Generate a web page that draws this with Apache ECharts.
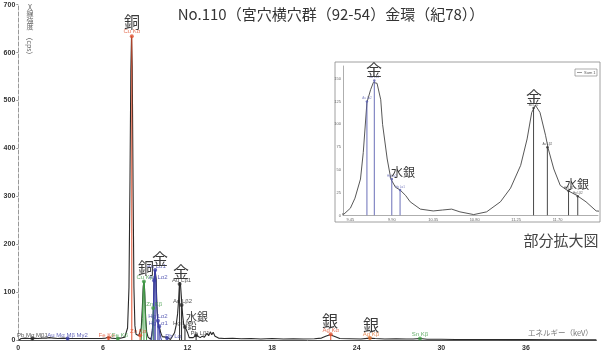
<!DOCTYPE html>
<html><head><meta charset="utf-8">
<script src="https://cdn.jsdelivr.net/npm/echarts@6/dist/echarts.min.js"></script>
<style>html,body{margin:0;padding:0;background:#fff}#c{width:604px;height:360px}</style>
</head><body><div id="c"></div>
<script>
// ---- DATA ----
const titleText = 'No.110（宮穴横穴群（92-54）金環（紀78））';
const xTicks = [0, 6, 12, 18, 24, 30, 36];
const yTicks = [0, 100, 200, 300, 400, 500, 600, 700];
const insetXTicks = [9.45, 9.9, 10.35, 10.8, 11.25, 11.7];
const insetYTicks = [0, 25, 50, 75, 100, 125, 150];

// spectrum [keV, cps]
const spectrum = [
[0.05,0],[0.2,3],[0.5,4],[0.8,3],[1.1,4],[1.4,3],[1.7,4],[2.0,4],[2.2,5],[2.5,4],[2.8,3],[3.2,4],[3.6,3],[4.0,3],[4.5,3],[5.0,3],[5.5,3],[5.9,3],[6.2,4],[6.4,6],[6.6,4],[6.9,3],[7.06,4],[7.3,4],[7.55,6],[7.75,25],[7.85,110],[7.92,330],[7.98,560],[8.03,634],[8.08,570],[8.14,320],[8.2,110],[8.27,30],[8.35,12],[8.45,8],[8.55,9],[8.64,12],[8.72,25],[8.8,70],[8.86,112],[8.91,122],[8.96,105],[9.02,55],[9.1,18],[9.2,6],[9.3,2],[9.38,1.5],[9.45,8],[9.5,19],[9.56,40],[9.59,69],[9.63,124],[9.67,138],[9.70,146],[9.74,145],[9.78,127],[9.80,100],[9.85,62],[9.89,40],[9.94,31],[9.99,28],[10.05,22],[10.10,15],[10.21,7],[10.35,5],[10.45,6],[10.55,7],[10.64,4],[10.79,1],[10.93,4],[11.08,15],[11.19,30],[11.30,55],[11.37,84],[11.42,113],[11.46,121],[11.48,121],[11.51,113],[11.57,88],[11.60,73],[11.66,51],[11.73,33],[11.80,28],[11.91,22],[12.01,15],[12.12,5],[12.25,4],[12.4,5],[12.61,10],[12.75,6],[12.9,5],[13.05,8],[13.2,6],[13.38,14],[13.5,9],[13.62,17],[13.72,11],[13.82,16],[13.95,8],[14.2,4],[14.6,3],[15.2,3.5],[15.8,2.5],[16.5,3],[17.2,2],[18,3],[18.8,2],[19.5,2.5],[20.2,2],[21,2.5],[21.5,4],[21.8,8],[22.1,11],[22.4,8],[22.8,3],[23.5,2.5],[24.3,2],[24.9,4],[25.3,3],[26,2],[26.8,2.5],[27.5,2],[28,2],[28.5,3],[29,1.5],[30,1.5],[31,1.2],[32,1],[33,1.2],[34,1],[35,0.8],[36,0.8],[38,0.5],[40,0.3],[41,0.2]
];
const cuKbetaFit = [[8.72,0],[8.8,45],[8.86,105],[8.91,122],[8.96,100],[9.02,45],[9.1,0]];
const auLalphaFit = [[9.45,0],[9.52,25],[9.58,70],[9.63,124],[9.70,146],[9.76,125],[9.82,70],[9.88,38],[9.95,28],[10.0,24],[10.08,8],[10.15,0]];

// identified lines (main chart)
const markerNames  = ['Cu Kα','Cu Kβ','Zn Kα','Zn Kβ','Au Lα1','Au Lα2','Hg Lα2','Hg Lα1','Pb Lα','Au Lβ1','Au Lβ2','Hg Lβ','Pb Lβ1','Fe Kα','Fe Kβ','Ag Kα','Ag Kβ','Sn Kβ','Pb Mα Mβ1','Au Mα Mβ Mγ2'];
const markerEnergy = [8.05, 8.91, 8.64, 9.57, 9.71, 9.63, 9.90, 9.99, 10.55, 11.44, 11.58, 11.82, 12.61, 6.40, 7.06, 22.16, 24.94, 28.49, 1.0, 3.5];
const markerCounts = [634, 122, 10, 67, 146, 124, 40, 28, 4, 117, 73, 27, 10, 4, 3, 12, 4, 3, 3, 3];

// identified lines (inset)
const insetMarkerNames  = ['Au Lα2','Au Lα1','Hg Lα2','Hg Lα1','Au Lβ1','Au Lβ2','Hg Lβ1','Hg Lβ2'];
const insetMarkerEnergy = [9.63, 9.71, 9.90, 9.99, 11.44, 11.59, 11.82, 11.92];
const insetMarkerCounts = [125, 148, 40, 28, 118, 75, 27, 21];

// ---- STYLE ----
const RED = '#e0502e', GREEN = '#3f9a45', BLUE = '#3b3fa8', DARK = '#2a2a2a', ORANGE = '#e0702e';
const markerStyle = {
  'Cu Kα':{c:RED, o:[0,-5]}, 'Cu Kβ':{c:GREEN, o:[1,-4]}, 'Zn Kα':{c:RED, o:[-2,-4]}, 'Zn Kβ':{c:GREEN, o:[1,-4]},
  'Au Lα1':{c:BLUE, o:[1,-4]}, 'Au Lα2':{c:BLUE, o:[4,-3]}, 'Hg Lα2':{c:BLUE, o:[0,-4]}, 'Hg Lα1':{c:BLUE, o:[-1,-3]},
  'Pb Lα':{c:BLUE, o:[6,-2]}, 'Au Lβ1':{c:DARK, o:[2,-4]}, 'Au Lβ2':{c:DARK, o:[1,-4]}, 'Hg Lβ':{c:DARK, o:[-4,-4]},
  'Pb Lβ1':{c:DARK, o:[4,-2]}, 'Fe Kα':{c:RED, o:[-2,-3]}, 'Fe Kβ':{c:GREEN, o:[2,-3]}, 'Ag Kα':{c:RED, o:[0,-4]},
  'Ag Kβ':{c:ORANGE, o:[1,-4]}, 'Sn Kβ':{c:GREEN, o:[0,-4]}, 'Pb Mα Mβ1':{c:DARK, o:[0,-3]}, 'Au Mα Mβ Mγ2':{c:BLUE, o:[0,-3]}
};
const insetColor = {'Au Lα2':'#5a5fb0','Au Lα1':'#5a5fb0','Hg Lα2':'#5a5fb0','Hg Lα1':'#5a5fb0','Au Lβ1':'#333','Au Lβ2':'#333','Hg Lβ1':'#333','Hg Lβ2':'#333'};
const FONT = 'Liberation Sans';
const JP = 'Noto Sans CJK JP';

const mainMarkers = markerNames.map((n,i)=>({name:n, value:[markerEnergy[i], markerCounts[i]]}));
const insetMarkers = insetMarkerNames.map((n,i)=>({name:n, value:[insetMarkerEnergy[i], insetMarkerCounts[i]]}));

function vline(colorOf, w){
  return function(params, api){
    const x = api.value(0), h = api.value(1);
    const p0 = api.coord([x,0]), p1 = api.coord([x,h]);
    const n = params.dataIndex;
    return {type:'line', shape:{x1:p0[0],y1:p0[1],x2:p1[0],y2:p1[1]}, style:{stroke:colorOf(n), lineWidth:w}};
  };
}

const chart = echarts.init(document.getElementById('c'));
function kanji(t, x, y, size){
  return {type:'text', x:x, y:y, z:100, style:{text:t, align:'center', verticalAlign:'middle', font:'normal '+size+'px "'+JP+'"', fill:'#3a3a3a'}};
}
chart.setOption({
  animation:false,
  backgroundColor:'#fff',
  grid:[{left:18.3, right:7.6, top:4.7, bottom:20},{left:343, right:6, top:66, bottom:144.5}],
  xAxis:[
    {type:'value', gridIndex:0, min:0, max:41, interval:6, axisLine:{lineStyle:{color:'#555'}}, axisTick:{show:false}, splitLine:{show:false},
     axisLabel:{customValues:xTicks, fontSize:7, fontWeight:'bold', color:'#333', margin:5, fontFamily:FONT}},
    {type:'value', gridIndex:1, min:9.37, max:12.14, axisLine:{lineStyle:{color:'#999', width:0.8}}, axisTick:{show:false}, splitLine:{show:false},
     axisLabel:{customValues:insetXTicks, fontSize:4, color:'#666', margin:2, fontFamily:FONT, formatter:v=>v.toFixed(2)}}
  ],
  yAxis:[
    {type:'value', gridIndex:0, min:0, max:700, interval:100, axisLine:{show:true, lineStyle:{color:'#999', type:'dashed'}},
     axisTick:{show:true, length:2, lineStyle:{color:'#999'}}, splitLine:{show:false},
     axisLabel:{customValues:yTicks, fontSize:7, fontWeight:'bold', color:'#333', margin:3, fontFamily:FONT}},
    {type:'value', gridIndex:1, min:0, max:164, axisLine:{show:true, lineStyle:{color:'#999', width:0.8}}, axisTick:{show:false}, splitLine:{show:false},
     axisLabel:{customValues:insetYTicks, fontSize:4, color:'#666', margin:2, fontFamily:FONT}}
  ],
  series:[
    {type:'line', xAxisIndex:0, yAxisIndex:0, data:spectrum, showSymbol:false, z:3, lineStyle:{color:DARK, width:1.1}},
    {type:'line', xAxisIndex:0, yAxisIndex:0, data:cuKbetaFit, showSymbol:false, z:4, lineStyle:{color:GREEN, width:1}},
    {type:'line', xAxisIndex:0, yAxisIndex:0, data:auLalphaFit, showSymbol:false, z:4, lineStyle:{color:BLUE, width:1}},
    {type:'custom', xAxisIndex:0, yAxisIndex:0, data:mainMarkers, z:5, renderItem:vline(n=>markerStyle[markerNames[n]].c, 1)},
    {type:'scatter', xAxisIndex:0, yAxisIndex:0, z:6, symbolSize:4,
     data:mainMarkers.map(d=>{const s=markerStyle[d.name]; return {name:d.name, value:d.value, itemStyle:{color:s.c},
       label:{show:true, position:'inside', offset:s.o, formatter:d.name, fontSize:6, color:s.c, fontFamily:FONT}};})},
    {type:'line', xAxisIndex:1, yAxisIndex:1, data:spectrum, showSymbol:false, clip:true, z:3, lineStyle:{color:'#444', width:0.9}},
    {type:'custom', xAxisIndex:1, yAxisIndex:1, data:insetMarkers, z:5, clip:true, renderItem:vline(n=>insetColor[insetMarkerNames[n]], 0.9)},
    {type:'scatter', xAxisIndex:1, yAxisIndex:1, z:6, symbolSize:2.5,
     data:insetMarkers.map(d=>({name:d.name, value:d.value, itemStyle:{color:insetColor[d.name]},
       label:{show:true, position:'inside', offset:[0,-3], formatter:d.name, fontSize:3, color:insetColor[d.name], fontFamily:FONT}}))}
  ],
  graphic:[
    {type:'rect', z:-1, shape:{x:335, y:62, width:265, height:160}, style:{fill:'#fff', stroke:'#888', lineWidth:0.8}},
    {type:'rect', z:10, shape:{x:575, y:69, width:22, height:7}, style:{fill:'#fff', stroke:'#777', lineWidth:0.6}},
    {type:'line', z:11, shape:{x1:577, y1:72.5, x2:582, y2:72.5}, style:{stroke:'#555', lineWidth:0.6}},
    {type:'text', z:11, x:584, y:72.5, style:{text:'Sum 1', font:'4px "'+FONT+'"', fill:'#555', verticalAlign:'middle'}},
    {type:'text', x:331, y:14, style:{text:titleText, align:'center', verticalAlign:'middle', font:'normal 15px "'+JP+'"', fill:'#333'}},
    {type:'text', x:30, y:4, style:{text:'X\n線\n強\n度', align:'center', verticalAlign:'top', font:'7px "'+JP+'"', lineHeight:6.5, fill:'#666'}},
    {type:'text', x:30, y:46, rotation:-Math.PI/2, style:{text:'（cps）', align:'center', verticalAlign:'middle', font:'7px "'+JP+'"', fill:'#666'}},
    {type:'text', x:528, y:333, style:{text:'エネルギー（keV）', align:'left', verticalAlign:'middle', font:'7.5px "'+JP+'"', fill:'#777'}},
    {type:'text', x:561, y:240, style:{text:'部分拡大図', align:'center', verticalAlign:'middle', font:'15px "'+JP+'"', fill:'#444'}},
    kanji('銅',132,22,16), kanji('銅',146,268,16), kanji('金',160,259,16), kanji('金',181,272,16),
    kanji('水銀',197,317,11), kanji('鉛',192,326,9), kanji('銀',330,321,16), kanji('銀',371,325,16),
    kanji('金',374,70,16), kanji('水銀',403,172,12), kanji('金',534,97,16), kanji('水銀',577,184,12)
  ]
});
</script></body></html>
